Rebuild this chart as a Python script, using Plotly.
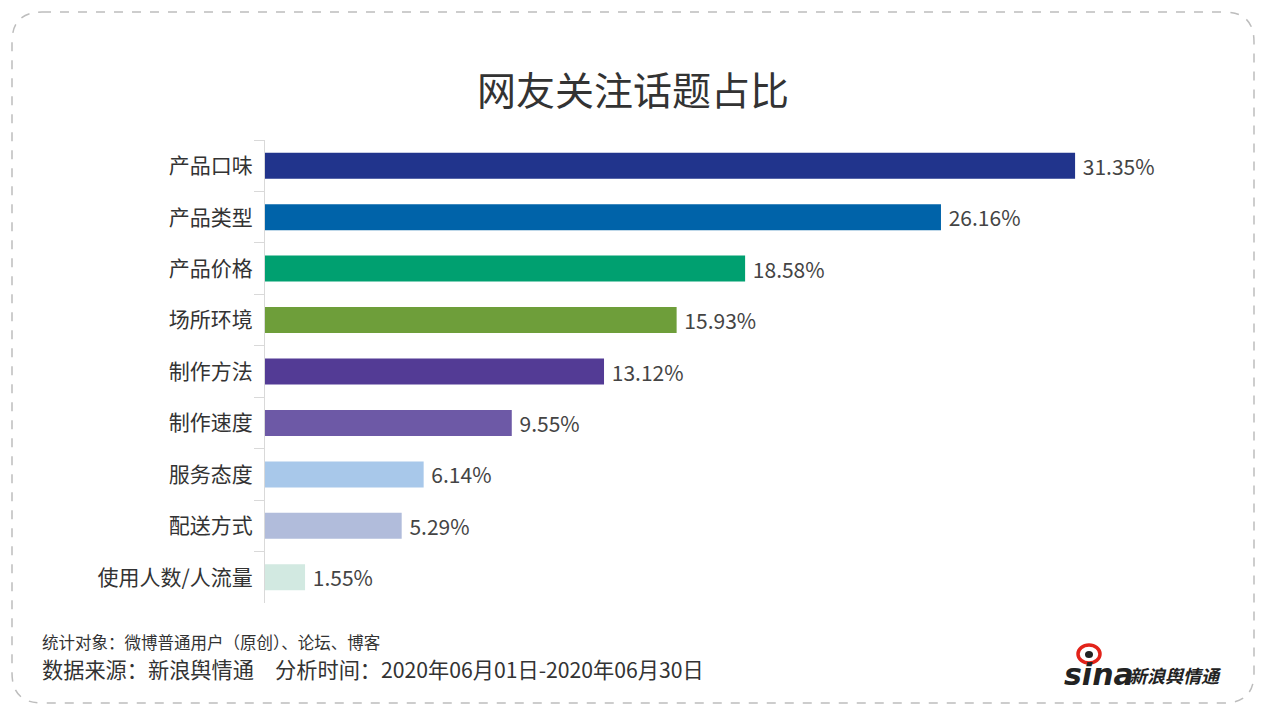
import plotly.graph_objects as go

# 数据
topics = ['产品口味', '产品类型', '产品价格', '场所环境', '制作方法',
          '制作速度', '服务态度', '配送方式', '使用人数/人流量']
shares = [31.35, 26.16, 18.58, 15.93, 13.12, 9.55, 6.14, 5.29, 1.55]
bar_colors = ['#21348c', '#0063a9', '#00a070', '#6e9e3a', '#533b95',
              '#6d59a6', '#a8c8ea', '#b1bcdb', '#d2e9e1']

# 页面有 8px 的默认边距，坐标都按截图减去 8
OFF = 8
W, H = 1267 - 2 * OFF, 713 - 2 * OFF
L, T = 265 - OFF, 140 - OFF
plot_right, plot_bottom = 1169 - OFF, 603 - OFF
R, B = W - plot_right, H - plot_bottom
pw, ph = W - L - R, H - T - B


def px(x):
    return (x - OFF - L) / pw


def py(y):
    return (H - B - (y - OFF)) / ph


fig = go.Figure()

fig.add_trace(go.Bar(
    y=topics,
    x=shares,
    orientation='h',
    marker=dict(color=bar_colors, line=dict(width=0)),
    width=0.505,
    text=['\u00a0%.2f%%' % v for v in shares],
    textposition='outside',
    constraintext='none',
    textfont=dict(size=21, color='#444444', family='Noto Sans CJK SC'),
    cliponaxis=False,
    hoverinfo='x+y',
))

# 圆角虚线边框
x0, x1, y0, y1, r = 12, 1254, 12, 703, 30
path = ('M {a},{b} L {c},{b} Q {e},{b} {e},{f} L {e},{g} Q {e},{h} {c},{h} '
        'L {a},{h} Q {i},{h} {i},{g} L {i},{f} Q {i},{b} {a},{b} Z').format(
    a=px(x0 + r), b=py(y0), c=px(x1 - r), e=px(x1), f=py(y0 + r),
    g=py(y1 - r), h=py(y1), i=px(x0))
fig.add_shape(type='path', path=path, xref='paper', yref='paper',
              line=dict(color='#bdbdbd', width=1.5, dash='dash'), layer='below')

# 新浪 logo 近似
fig.add_shape(type='circle', xref='paper', yref='paper',
              x0=px(1078), x1=px(1100), y0=py(663), y1=py(645),
              line=dict(color='#e2231a', width=3.5), fillcolor='white')
fig.add_shape(type='circle', xref='paper', yref='paper',
              x0=px(1085), x1=px(1093), y0=py(658), y1=py(651),
              line=dict(width=0), fillcolor='#222222')

annotations = [
    dict(text='网友关注话题占比', x=px(633), y=py(88), xref='paper', yref='paper',
         showarrow=False, xanchor='center', yanchor='middle',
         font=dict(size=39, color='#333333', family='Noto Sans CJK SC')),
    dict(text='统计对象：微博普通用户（原创）、论坛、博客', x=px(40), y=py(642),
         xref='paper', yref='paper', showarrow=False, xanchor='left', yanchor='middle',
         font=dict(size=16.5, color='#333333', family='Noto Sans CJK SC')),
    dict(text='数据来源：新浪舆情通　分析时间：2020年06月01日-2020年06月30日',
         x=px(40), y=py(668), xref='paper', yref='paper', showarrow=False,
         xanchor='left', yanchor='middle',
         font=dict(size=21.2, color='#333333', family='Noto Sans CJK SC')),
    dict(text='<b><i>sina</i></b>', x=px(1062), y=py(674), xref='paper', yref='paper',
         showarrow=False, xanchor='left', yanchor='middle',
         font=dict(size=30, color='#222222', family='DejaVu Sans')),
    dict(text='<b><i>新浪舆情通</i></b>', x=px(1127), y=py(675), xref='paper', yref='paper',
         showarrow=False, xanchor='left', yanchor='middle',
         font=dict(size=18, color='#222222', family='Noto Sans CJK SC')),
]

fig.update_layout(
    width=W, height=H,
    margin=dict(l=L, r=R, t=T, b=B),
    paper_bgcolor='white', plot_bgcolor='white',
    showlegend=False,
    annotations=annotations,
    font=dict(family='Noto Sans CJK SC', color='#333333'),
    xaxis=dict(range=[0, pw / 25.84], visible=False, fixedrange=True),
    yaxis=dict(
        categoryorder='array', categoryarray=topics, autorange='reversed',
        showline=True, linecolor='#d9d9d9', linewidth=1,
        ticks='outside', tickson='boundaries', ticklen=10, tickcolor='#d9d9d9',
        tickfont=dict(size=21, color='#333333', family='Noto Sans CJK SC'),
        ticklabelstandoff=7,
        showgrid=False, zeroline=False, fixedrange=True,
    ),
)

fig.write_html('out.html')
